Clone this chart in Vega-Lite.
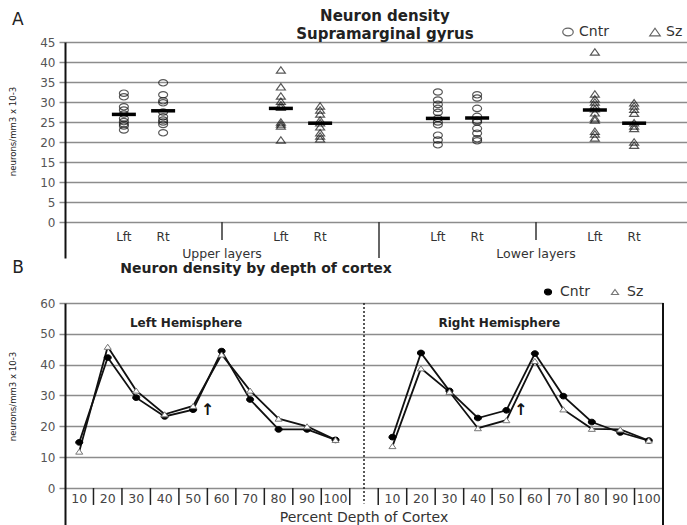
{
  "$schema": "https://vega.github.io/schema/vega-lite/v6.json",
  "autosize": {"type": "pad"},
  "padding": 0,
  "bounds": "flush",
  "spacing": 45,
  "config": {
    "view": {"stroke": null},
    "font": "DejaVu Sans",
    "axis": {
      "labelFont": "DejaVu Sans",
      "labelFontSize": 12,
      "labelColor": "#555555",
      "labelPadding": 4,
      "labelOverlap": false,
      "tickCount": 30,
      "grid": true,
      "gridColor": "#8c8c8c",
      "gridWidth": 1.5,
      "domainColor": "#111111",
      "domainWidth": 2,
      "tickColor": "#8c8c8c",
      "tickSize": 6,
      "tickWidth": 1.5,
      "titleFont": "DejaVu Sans Condensed",
      "titleFontSize": 9.5,
      "titleFontWeight": "normal",
      "titleColor": "#222222",
      "titleAngle": -90,
      "titleAlign": "center",
      "titleBaseline": "middle",
      "titleX": -53
    },
    "legend": {
      "labelFont": "DejaVu Sans",
      "labelFontSize": 14,
      "labelColor": "#333333",
      "padding": 0
    }
  },
  "datasets": {
    "pointsA": [
      {"slot": "Upper Cntr Lft", "group": "Cntr", "v": 32.2},
      {"slot": "Upper Cntr Lft", "group": "Cntr", "v": 31.3},
      {"slot": "Upper Cntr Lft", "group": "Cntr", "v": 28.8},
      {"slot": "Upper Cntr Lft", "group": "Cntr", "v": 28.0},
      {"slot": "Upper Cntr Lft", "group": "Cntr", "v": 27.0},
      {"slot": "Upper Cntr Lft", "group": "Cntr", "v": 25.9},
      {"slot": "Upper Cntr Lft", "group": "Cntr", "v": 25.1},
      {"slot": "Upper Cntr Lft", "group": "Cntr", "v": 24.5},
      {"slot": "Upper Cntr Lft", "group": "Cntr", "v": 24.0},
      {"slot": "Upper Cntr Lft", "group": "Cntr", "v": 23.0},
      {"slot": "Upper Cntr Rt", "group": "Cntr", "v": 34.8},
      {"slot": "Upper Cntr Rt", "group": "Cntr", "v": 31.8},
      {"slot": "Upper Cntr Rt", "group": "Cntr", "v": 30.3},
      {"slot": "Upper Cntr Rt", "group": "Cntr", "v": 29.8},
      {"slot": "Upper Cntr Rt", "group": "Cntr", "v": 27.5},
      {"slot": "Upper Cntr Rt", "group": "Cntr", "v": 26.3},
      {"slot": "Upper Cntr Rt", "group": "Cntr", "v": 25.5},
      {"slot": "Upper Cntr Rt", "group": "Cntr", "v": 25.0},
      {"slot": "Upper Cntr Rt", "group": "Cntr", "v": 24.4},
      {"slot": "Upper Cntr Rt", "group": "Cntr", "v": 22.3},
      {"slot": "Upper Sz Lft", "group": "Sz", "v": 38.0},
      {"slot": "Upper Sz Lft", "group": "Sz", "v": 33.8},
      {"slot": "Upper Sz Lft", "group": "Sz", "v": 31.5},
      {"slot": "Upper Sz Lft", "group": "Sz", "v": 30.2},
      {"slot": "Upper Sz Lft", "group": "Sz", "v": 29.3},
      {"slot": "Upper Sz Lft", "group": "Sz", "v": 28.7},
      {"slot": "Upper Sz Lft", "group": "Sz", "v": 25.0},
      {"slot": "Upper Sz Lft", "group": "Sz", "v": 24.5},
      {"slot": "Upper Sz Lft", "group": "Sz", "v": 24.0},
      {"slot": "Upper Sz Lft", "group": "Sz", "v": 20.5},
      {"slot": "Upper Sz Rt", "group": "Sz", "v": 29.0},
      {"slot": "Upper Sz Rt", "group": "Sz", "v": 28.0},
      {"slot": "Upper Sz Rt", "group": "Sz", "v": 27.0},
      {"slot": "Upper Sz Rt", "group": "Sz", "v": 25.5},
      {"slot": "Upper Sz Rt", "group": "Sz", "v": 24.8},
      {"slot": "Upper Sz Rt", "group": "Sz", "v": 23.8},
      {"slot": "Upper Sz Rt", "group": "Sz", "v": 22.3},
      {"slot": "Upper Sz Rt", "group": "Sz", "v": 21.5},
      {"slot": "Upper Sz Rt", "group": "Sz", "v": 20.8},
      {"slot": "Lower Cntr Lft", "group": "Cntr", "v": 32.5},
      {"slot": "Lower Cntr Lft", "group": "Cntr", "v": 30.5},
      {"slot": "Lower Cntr Lft", "group": "Cntr", "v": 29.4},
      {"slot": "Lower Cntr Lft", "group": "Cntr", "v": 28.4},
      {"slot": "Lower Cntr Lft", "group": "Cntr", "v": 27.4},
      {"slot": "Lower Cntr Lft", "group": "Cntr", "v": 25.9},
      {"slot": "Lower Cntr Lft", "group": "Cntr", "v": 25.0},
      {"slot": "Lower Cntr Lft", "group": "Cntr", "v": 24.3},
      {"slot": "Lower Cntr Lft", "group": "Cntr", "v": 21.7},
      {"slot": "Lower Cntr Lft", "group": "Cntr", "v": 20.5},
      {"slot": "Lower Cntr Lft", "group": "Cntr", "v": 19.3},
      {"slot": "Lower Cntr Rt", "group": "Cntr", "v": 31.8},
      {"slot": "Lower Cntr Rt", "group": "Cntr", "v": 31.0},
      {"slot": "Lower Cntr Rt", "group": "Cntr", "v": 28.4},
      {"slot": "Lower Cntr Rt", "group": "Cntr", "v": 26.4},
      {"slot": "Lower Cntr Rt", "group": "Cntr", "v": 25.4},
      {"slot": "Lower Cntr Rt", "group": "Cntr", "v": 25.0},
      {"slot": "Lower Cntr Rt", "group": "Cntr", "v": 23.4},
      {"slot": "Lower Cntr Rt", "group": "Cntr", "v": 22.2},
      {"slot": "Lower Cntr Rt", "group": "Cntr", "v": 20.8},
      {"slot": "Lower Cntr Rt", "group": "Cntr", "v": 20.3},
      {"slot": "Lower Sz Lft", "group": "Sz", "v": 42.5},
      {"slot": "Lower Sz Lft", "group": "Sz", "v": 32.0},
      {"slot": "Lower Sz Lft", "group": "Sz", "v": 30.8},
      {"slot": "Lower Sz Lft", "group": "Sz", "v": 30.0},
      {"slot": "Lower Sz Lft", "group": "Sz", "v": 29.2},
      {"slot": "Lower Sz Lft", "group": "Sz", "v": 28.3},
      {"slot": "Lower Sz Lft", "group": "Sz", "v": 27.3},
      {"slot": "Lower Sz Lft", "group": "Sz", "v": 26.0},
      {"slot": "Lower Sz Lft", "group": "Sz", "v": 25.5},
      {"slot": "Lower Sz Lft", "group": "Sz", "v": 22.7},
      {"slot": "Lower Sz Lft", "group": "Sz", "v": 22.0},
      {"slot": "Lower Sz Lft", "group": "Sz", "v": 21.0},
      {"slot": "Lower Sz Rt", "group": "Sz", "v": 29.8},
      {"slot": "Lower Sz Rt", "group": "Sz", "v": 29.0},
      {"slot": "Lower Sz Rt", "group": "Sz", "v": 28.2},
      {"slot": "Lower Sz Rt", "group": "Sz", "v": 27.2},
      {"slot": "Lower Sz Rt", "group": "Sz", "v": 24.8},
      {"slot": "Lower Sz Rt", "group": "Sz", "v": 24.0},
      {"slot": "Lower Sz Rt", "group": "Sz", "v": 23.4},
      {"slot": "Lower Sz Rt", "group": "Sz", "v": 20.0},
      {"slot": "Lower Sz Rt", "group": "Sz", "v": 19.2}
    ],
    "meansA": [
      {"slot": "Upper Cntr Lft", "v": 26.9},
      {"slot": "Upper Cntr Rt", "v": 27.8},
      {"slot": "Upper Sz Lft", "v": 28.4},
      {"slot": "Upper Sz Rt", "v": 24.7},
      {"slot": "Lower Cntr Lft", "v": 25.9},
      {"slot": "Lower Cntr Rt", "v": 26.0},
      {"slot": "Lower Sz Lft", "v": 28.0},
      {"slot": "Lower Sz Rt", "v": 24.7}
    ],
    "sidesA": [
      {"slot": "Upper Cntr Lft", "text": "Lft"},
      {"slot": "Upper Cntr Rt", "text": "Rt"},
      {"slot": "Upper Sz Lft", "text": "Lft"},
      {"slot": "Upper Sz Rt", "text": "Rt"},
      {"slot": "Lower Cntr Lft", "text": "Lft"},
      {"slot": "Lower Cntr Rt", "text": "Rt"},
      {"slot": "Lower Sz Lft", "text": "Lft"},
      {"slot": "Lower Sz Rt", "text": "Rt"}
    ],
    "layersA": [
      {"slot": "Upper Sz a", "text": "Upper layers"},
      {"slot": "Lower Sz a", "text": "Lower layers"}
    ],
    "depthB": [
      {"hemi": "Left", "slot": "Left 10", "series": "Cntr", "v": 14.8},
      {"hemi": "Left", "slot": "Left 20", "series": "Cntr", "v": 42.3},
      {"hemi": "Left", "slot": "Left 30", "series": "Cntr", "v": 29.3},
      {"hemi": "Left", "slot": "Left 40", "series": "Cntr", "v": 23.2},
      {"hemi": "Left", "slot": "Left 50", "series": "Cntr", "v": 25.4},
      {"hemi": "Left", "slot": "Left 60", "series": "Cntr", "v": 44.4},
      {"hemi": "Left", "slot": "Left 70", "series": "Cntr", "v": 28.7},
      {"hemi": "Left", "slot": "Left 80", "series": "Cntr", "v": 19.0},
      {"hemi": "Left", "slot": "Left 90", "series": "Cntr", "v": 19.0},
      {"hemi": "Left", "slot": "Left 100", "series": "Cntr", "v": 15.6},
      {"hemi": "Left", "slot": "Left 10", "series": "Sz", "v": 11.8},
      {"hemi": "Left", "slot": "Left 20", "series": "Sz", "v": 45.8},
      {"hemi": "Left", "slot": "Left 30", "series": "Sz", "v": 31.6},
      {"hemi": "Left", "slot": "Left 40", "series": "Sz", "v": 23.9},
      {"hemi": "Left", "slot": "Left 50", "series": "Sz", "v": 26.6},
      {"hemi": "Left", "slot": "Left 60", "series": "Sz", "v": 43.3},
      {"hemi": "Left", "slot": "Left 70", "series": "Sz", "v": 31.6},
      {"hemi": "Left", "slot": "Left 80", "series": "Sz", "v": 22.5},
      {"hemi": "Left", "slot": "Left 90", "series": "Sz", "v": 20.0},
      {"hemi": "Left", "slot": "Left 100", "series": "Sz", "v": 15.6},
      {"hemi": "Right", "slot": "Right 10", "series": "Cntr", "v": 16.5},
      {"hemi": "Right", "slot": "Right 20", "series": "Cntr", "v": 43.8},
      {"hemi": "Right", "slot": "Right 30", "series": "Cntr", "v": 31.5},
      {"hemi": "Right", "slot": "Right 40", "series": "Cntr", "v": 22.7},
      {"hemi": "Right", "slot": "Right 50", "series": "Cntr", "v": 25.2},
      {"hemi": "Right", "slot": "Right 60", "series": "Cntr", "v": 43.6},
      {"hemi": "Right", "slot": "Right 70", "series": "Cntr", "v": 29.8},
      {"hemi": "Right", "slot": "Right 80", "series": "Cntr", "v": 21.4},
      {"hemi": "Right", "slot": "Right 90", "series": "Cntr", "v": 18.0},
      {"hemi": "Right", "slot": "Right 100", "series": "Cntr", "v": 15.4},
      {"hemi": "Right", "slot": "Right 10", "series": "Sz", "v": 13.6},
      {"hemi": "Right", "slot": "Right 20", "series": "Sz", "v": 38.8},
      {"hemi": "Right", "slot": "Right 30", "series": "Sz", "v": 31.2},
      {"hemi": "Right", "slot": "Right 40", "series": "Sz", "v": 19.4},
      {"hemi": "Right", "slot": "Right 50", "series": "Sz", "v": 22.0},
      {"hemi": "Right", "slot": "Right 60", "series": "Sz", "v": 41.2},
      {"hemi": "Right", "slot": "Right 70", "series": "Sz", "v": 25.5},
      {"hemi": "Right", "slot": "Right 80", "series": "Sz", "v": 19.2},
      {"hemi": "Right", "slot": "Right 90", "series": "Sz", "v": 19.0},
      {"hemi": "Right", "slot": "Right 100", "series": "Sz", "v": 15.4}
    ],
    "ticksB": [
      {"slot": "Left 10", "text": "10"},
      {"slot": "Left 20", "text": "20"},
      {"slot": "Left 30", "text": "30"},
      {"slot": "Left 40", "text": "40"},
      {"slot": "Left 50", "text": "50"},
      {"slot": "Left 60", "text": "60"},
      {"slot": "Left 70", "text": "70"},
      {"slot": "Left 80", "text": "80"},
      {"slot": "Left 90", "text": "90"},
      {"slot": "Left 100", "text": "100"},
      {"slot": "gap", "text": ""},
      {"slot": "Right 10", "text": "10"},
      {"slot": "Right 20", "text": "20"},
      {"slot": "Right 30", "text": "30"},
      {"slot": "Right 40", "text": "40"},
      {"slot": "Right 50", "text": "50"},
      {"slot": "Right 60", "text": "60"},
      {"slot": "Right 70", "text": "70"},
      {"slot": "Right 80", "text": "80"},
      {"slot": "Right 90", "text": "90"},
      {"slot": "Right 100", "text": "100"}
    ],
    "hemisB": [
      {"slot": "Left 50", "text": "Left Hemisphere"},
      {"slot": "Right 50", "text": "Right Hemisphere"}
    ],
    "arrowsB": [
      {"slot": "Left 60"},
      {"slot": "Right 60"}
    ]
  },
  "resolve": {
    "scale": {"x": "independent", "y": "independent", "shape": "independent", "fill": "independent", "stroke": "independent"},
    "legend": {"shape": "independent", "fill": "independent", "stroke": "independent"}
  },
  "vconcat": [
    {
      "width": 628,
      "height": 216,
      "layer": [
        {
          "data": {"name": "pointsA"},
          "mark": {"type": "point", "filled": false, "size": 80, "strokeWidth": 1.2, "color": "#111111"},
          "encoding": {
            "x": {
              "field": "slot", "type": "nominal", "axis": null,
              "scale": {
                "type": "band", "paddingInner": 0, "paddingOuter": 0,
                "domain": ["Upper Cntr a", "Upper Cntr Lft", "Upper Cntr Rt", "Upper Cntr b", "Upper Sz a", "Upper Sz Lft", "Upper Sz Rt", "Upper Sz b", "Lower Cntr a", "Lower Cntr Lft", "Lower Cntr Rt", "Lower Cntr b", "Lower Sz a", "Lower Sz Lft", "Lower Sz Rt", "Lower Sz b"]
              }
            },
            "y": {
              "field": "v", "type": "quantitative",
              "scale": {"domain": [-9, 45], "nice": false, "zero": false},
              "axis": {"values": [0, 5, 10, 15, 20, 25, 30, 35, 40, 45], "title": "neurons/mm3 x 10-3", "titleY": 89}
            },
            "shape": {
              "field": "group", "type": "nominal",
              "scale": {"domain": ["Cntr", "Sz"], "range": ["M-1,0A1,0.72 0 1,0 1,0A1,0.72 0 1,0 -1,0Z", "M0,-0.72L1,0.72L-1,0.72Z"]},
              "legend": {
                "orient": "none", "legendX": 496, "legendY": -17, "direction": "horizontal",
                "title": null, "symbolSize": 110, "symbolStrokeWidth": 1.2, "symbolStrokeColor": "#222222",
                "labelFontSize": 14, "labelOffset": 4, "columnPadding": 38
              }
            }
          }
        },
        {
          "data": {"name": "meansA"},
          "mark": {"type": "tick", "orient": "horizontal", "size": 24, "thickness": 3.5, "color": "#000000", "opacity": 1},
          "encoding": {
            "x": {"field": "slot", "type": "nominal"},
            "y": {"field": "v", "type": "quantitative"}
          }
        },
        {
          "data": {"name": "sidesA"},
          "mark": {"type": "text", "fontSize": 12, "color": "#333333", "baseline": "middle"},
          "encoding": {
            "x": {"field": "slot", "type": "nominal"},
            "y": {"datum": -3.75, "type": "quantitative"},
            "text": {"field": "text"}
          }
        },
        {
          "data": {"name": "layersA"},
          "mark": {"type": "text", "fontSize": 12.5, "color": "#333333", "baseline": "middle"},
          "encoding": {
            "x": {"field": "slot", "type": "nominal", "bandPosition": 0},
            "y": {"datum": -8.0, "type": "quantitative"},
            "text": {"field": "text"}
          }
        },
        {
          "data": {"name": "layersA"},
          "mark": {"type": "rule", "color": "#333333", "strokeWidth": 1.5},
          "encoding": {
            "x": {"field": "slot", "type": "nominal", "bandPosition": 0},
            "y": {"datum": 0, "type": "quantitative"},
            "y2": {"datum": -4.5}
          }
        },
        {
          "data": {"values": [{"slot": "Lower Cntr a"}]},
          "mark": {"type": "rule", "color": "#333333", "strokeWidth": 1.5},
          "encoding": {
            "x": {"field": "slot", "type": "nominal", "bandPosition": 0},
            "y": {"datum": 0, "type": "quantitative"},
            "y2": {"datum": -9}
          }
        },
        {
          "data": {"values": [{"slot": "Upper Cntr a", "text": "A"}]},
          "mark": {"type": "text", "fontSize": 17, "color": "#222222", "baseline": "middle"},
          "encoding": {
            "x": {"field": "slot", "type": "nominal", "bandPosition": -1.2},
            "y": {"datum": 50.5, "type": "quantitative"},
            "text": {"field": "text"}
          }
        },
        {
          "data": {"values": [{"slot": "Lower Cntr a", "text": ["Neuron density", "Supramarginal gyrus"]}]},
          "mark": {"type": "text", "fontSize": 15, "fontWeight": "bold", "color": "#222222", "baseline": "middle", "lineHeight": 18},
          "encoding": {
            "x": {"field": "slot", "type": "nominal", "bandPosition": 0.15},
            "y": {"datum": 51.5, "type": "quantitative"},
            "text": {"field": "text"}
          }
        },
        {
          "data": {"values": [{"slot": "Upper Cntr a"}]},
          "mark": {"type": "rule", "opacity": 0},
          "encoding": {
            "x": {"field": "slot", "type": "nominal", "bandPosition": -1.656},
            "y": {"datum": 55.5, "type": "quantitative"},
            "y2": {"datum": 55.4}
          }
        }
      ]
    },
    {
      "width": 598,
      "height": 222,
      "layer": [
        {
          "data": {"name": "depthB"},
          "mark": {"type": "line", "color": "#111111", "strokeWidth": 1.8},
          "encoding": {
            "x": {
              "field": "slot", "type": "nominal", "axis": null,
              "scale": {
                "type": "band", "paddingInner": 0, "paddingOuter": 0,
                "domain": ["Left 10", "Left 20", "Left 30", "Left 40", "Left 50", "Left 60", "Left 70", "Left 80", "Left 90", "Left 100", "gap", "Right 10", "Right 20", "Right 30", "Right 40", "Right 50", "Right 60", "Right 70", "Right 80", "Right 90", "Right 100"]
              },
              "sort": null
            },
            "y": {
              "field": "v", "type": "quantitative",
              "scale": {"domain": [-12, 60], "nice": false, "zero": false},
              "axis": {"values": [0, 10, 20, 30, 40, 50, 60], "title": "neurons/mm3 x 10-3", "titleY": 93}
            },
            "detail": [{"field": "series"}, {"field": "hemi"}]
          }
        },
        {
          "data": {"name": "depthB"},
          "mark": {"type": "point", "filled": true, "size": 50, "strokeWidth": 1, "opacity": 1},
          "encoding": {
            "x": {"field": "slot", "type": "nominal"},
            "y": {"field": "v", "type": "quantitative"},
            "shape": {
              "field": "series", "type": "nominal",
              "scale": {"domain": ["Cntr", "Sz"], "range": ["M-1,0A1,0.8 0 1,0 1,0A1,0.8 0 1,0 -1,0Z", "M0,-0.72L1,0.72L-1,0.72Z"]},
              "legend": {
                "orient": "none", "legendX": 476, "legendY": -18, "direction": "horizontal",
                "title": null, "symbolSize": 49, "symbolStrokeWidth": 1.2,
                "labelFontSize": 14, "labelOffset": 5, "columnPadding": 18
              }
            },
            "fill": {
              "field": "series", "type": "nominal",
              "scale": {"domain": ["Cntr", "Sz"], "range": ["#000000", "#ffffff"]}
            },
            "stroke": {
              "field": "series", "type": "nominal",
              "scale": {"domain": ["Cntr", "Sz"], "range": ["#000000", "#777777"]}
            }
          }
        },
        {
          "data": {"name": "ticksB"},
          "mark": {"type": "text", "fontSize": 12.5, "color": "#444444", "baseline": "middle"},
          "encoding": {
            "x": {"field": "slot", "type": "nominal"},
            "y": {"datum": -3.6, "type": "quantitative"},
            "text": {"field": "text"}
          }
        },
        {
          "data": {"name": "ticksB"},
          "transform": [{"filter": "datum.slot !== 'Left 10'"}],
          "mark": {"type": "rule", "color": "#222222", "strokeWidth": 1.5},
          "encoding": {
            "x": {"field": "slot", "type": "nominal", "bandPosition": 0},
            "y": {"datum": 0, "type": "quantitative"},
            "y2": {"datum": -5.5}
          }
        },
        {
          "data": {"values": [{"slot": "Right 100"}]},
          "mark": {"type": "rule", "color": "#111111", "strokeWidth": 2},
          "encoding": {
            "x": {"field": "slot", "type": "nominal", "bandPosition": 1},
            "y": {"datum": 60, "type": "quantitative"},
            "y2": {"datum": -12}
          }
        },
        {
          "data": {"values": [{"slot": "gap"}]},
          "mark": {"type": "rule", "color": "#222222", "strokeWidth": 1.5, "strokeDash": [2, 2]},
          "encoding": {
            "x": {"field": "slot", "type": "nominal"},
            "y": {"datum": 60, "type": "quantitative"},
            "y2": {"datum": -5}
          }
        },
        {
          "data": {"name": "hemisB"},
          "mark": {"type": "text", "fontSize": 12, "fontWeight": "bold", "color": "#222222", "baseline": "middle"},
          "encoding": {
            "x": {"field": "slot", "type": "nominal", "bandPosition": 0.25},
            "y": {"datum": 53.5, "type": "quantitative"},
            "text": {"field": "text"}
          }
        },
        {
          "data": {"name": "arrowsB"},
          "mark": {"type": "text", "text": "↑", "fontSize": 16, "fontWeight": "bold", "color": "#111111", "baseline": "middle"},
          "encoding": {
            "x": {"field": "slot", "type": "nominal", "bandPosition": 0},
            "y": {"datum": 25.3, "type": "quantitative"}
          }
        },
        {
          "data": {"values": [{"slot": "gap", "text": "Percent Depth of Cortex"}]},
          "mark": {"type": "text", "fontSize": 14, "color": "#333333", "baseline": "middle"},
          "encoding": {
            "x": {"field": "slot", "type": "nominal"},
            "y": {"datum": -9.7, "type": "quantitative"},
            "text": {"field": "text"}
          }
        },
        {
          "data": {"values": [{"slot": "Left 10", "text": "B"}]},
          "mark": {"type": "text", "fontSize": 17, "color": "#222222", "baseline": "middle"},
          "encoding": {
            "x": {"field": "slot", "type": "nominal", "bandPosition": -1.65},
            "y": {"datum": 71.4, "type": "quantitative"},
            "text": {"field": "text"}
          }
        },
        {
          "data": {"values": [{"slot": "Left 70", "text": "Neuron density by depth of cortex"}]},
          "mark": {"type": "text", "fontSize": 14, "fontWeight": "bold", "color": "#222222", "baseline": "middle"},
          "encoding": {
            "x": {"field": "slot", "type": "nominal", "bandPosition": 0.71},
            "y": {"datum": 70.9, "type": "quantitative"},
            "text": {"field": "text"}
          }
        }
      ]
    }
  ]
}
